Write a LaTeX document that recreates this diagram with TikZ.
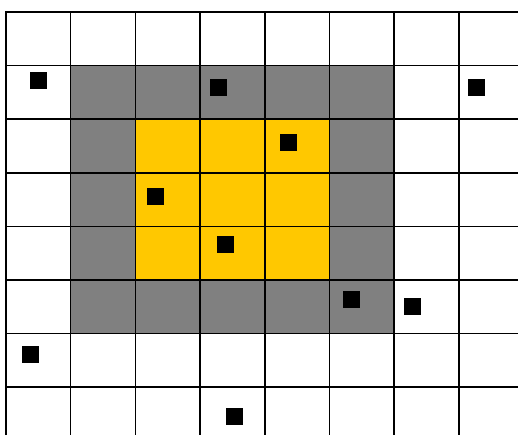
\documentclass[tikz,border=0pt]{standalone}
\usetikzlibrary{positioning}
\definecolor{cellgray}{RGB}{128,128,128}
\definecolor{cellyellow}{RGB}{255,200,0}

\begin{document}
\begin{tikzpicture}[x=1.294cm,y=-1.0714cm,
  gridline/.style={line width=0.9pt},
  obj/.style={rectangle,fill=black,minimum size=0.34cm,inner sep=0pt}]
  \useasboundingbox (-0.0927,-0.224) rectangle (7.913,7.896);

  % neighbourhood cells
  \fill[cellgray] (1,1) rectangle (6,6);
  \fill[cellyellow] (2,2) rectangle (5,5);

  % grid
  \foreach \i in {1,...,7}
    \draw[gridline] (\i,0) -- (\i,7.896);
  \foreach \j in {1,...,7}
    \draw[gridline] (0,\j) -- (7.913,\j);
  \draw[line width=1.6pt] (0,7.896) -- (0,0) -- (7.913,0);

  % objects
  \node[obj] (o1) at (0.495,1.27) {};
  \node[obj] (o2) at (3.277,1.40) {};
  \node[obj] (o3) at (7.264,1.40) {};
  \node[obj] (o4) at (4.359,2.445) {};
  \node[obj] (o5) at (2.318,3.453) {};
  \node[obj] (o6) at (3.400,4.331) {};
  \node[obj] (o7) at (5.332,5.357) {};
  \node[obj] (o8) at (6.290,5.488) {};
  \node[obj] (o9) at (0.386,6.384) {};
  \node[obj] (o10) at (3.524,7.541) {};
\end{tikzpicture}
\end{document}
